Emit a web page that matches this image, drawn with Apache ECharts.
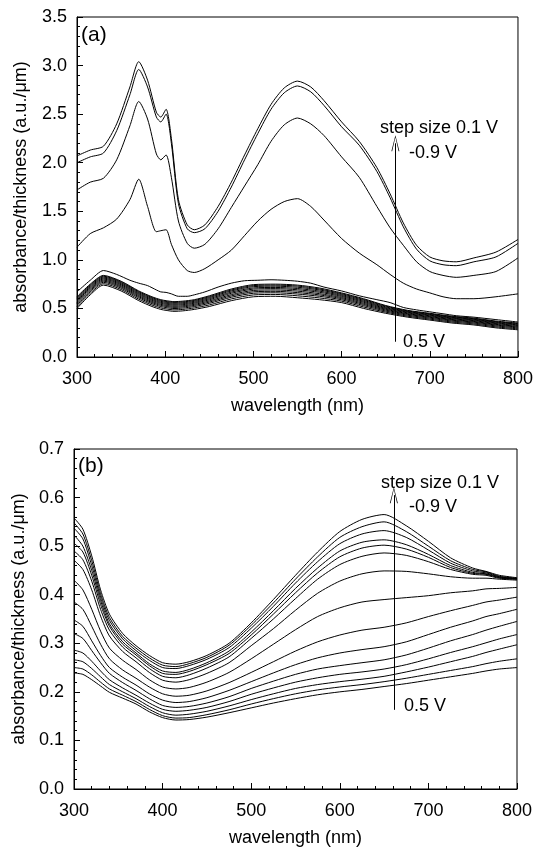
<!DOCTYPE html>
<html>
<head>
<meta charset="utf-8">
<script src="https://cdn.jsdelivr.net/npm/echarts@6/dist/echarts.min.js"></script>
<style>html,body{margin:0;padding:0;background:#fff}#c{width:536px;height:848px}</style>
</head>
<body>
<div id="c"></div>
<script>
// ---------- Panel (a) ----------
const wlA = [300,315,330,345,360,370,380,390,395,401,407,415,425,433,445,460,475,490,505,520,535,550,565,580,600,620,640,655,670,685,700,715,730,750,775,800];
const aM09 = [2.07,2.13,2.17,2.40,2.78,3.04,2.85,2.52,2.47,2.55,2.25,1.62,1.36,1.31,1.36,1.55,1.80,2.08,2.35,2.60,2.77,2.84,2.78,2.64,2.42,2.22,1.95,1.68,1.38,1.15,1.03,0.99,0.98,1.02,1.08,1.21];
const aM08 = [2.00,2.06,2.10,2.33,2.70,2.96,2.78,2.47,2.42,2.50,2.20,1.58,1.32,1.28,1.32,1.50,1.75,2.03,2.30,2.55,2.72,2.79,2.73,2.59,2.37,2.18,1.91,1.64,1.34,1.11,0.99,0.95,0.94,0.98,1.03,1.17];
const aM07 = [1.72,1.80,1.84,2.03,2.38,2.63,2.45,2.09,2.03,2.08,1.85,1.40,1.17,1.12,1.16,1.32,1.54,1.76,1.98,2.22,2.39,2.46,2.40,2.28,2.06,1.85,1.55,1.33,1.15,0.98,0.88,0.84,0.82,0.84,0.88,1.02];
const aM06 = [1.13,1.27,1.33,1.42,1.62,1.83,1.55,1.29,1.30,1.31,1.16,1.00,0.89,0.87,0.91,1.00,1.10,1.25,1.40,1.52,1.60,1.63,1.55,1.41,1.22,1.07,0.95,0.85,0.76,0.70,0.66,0.62,0.60,0.60,0.62,0.65];
const aM05 = [0.67,0.79,0.89,0.85,0.79,0.76,0.735,0.69,0.67,0.665,0.65,0.625,0.625,0.64,0.67,0.72,0.76,0.785,0.79,0.795,0.79,0.78,0.76,0.72,0.68,0.63,0.59,0.56,0.51,0.485,0.465,0.445,0.425,0.41,0.385,0.36];

const wlA2 = [300,315,330,350,370,385,395,401,410,420,433,450,475,500,525,550,575,600,625,650,675,700,725,750,775,800];
const aM04 = [0.62,0.75,0.84,0.78,0.68,0.62,0.59,0.58,0.57,0.575,0.59,0.63,0.70,0.745,0.75,0.74,0.71,0.66,0.60,0.53,0.48,0.45,0.42,0.40,0.37,0.35];
const aM03 = [0.61,0.741,0.832,0.772,0.672,0.612,0.582,0.572,0.562,0.567,0.582,0.621,0.69,0.735,0.74,0.73,0.70,0.652,0.592,0.524,0.474,0.444,0.414,0.394,0.364,0.344];
const aM02 = [0.60,0.731,0.823,0.763,0.663,0.603,0.573,0.563,0.553,0.558,0.573,0.611,0.68,0.724,0.729,0.718,0.69,0.643,0.583,0.516,0.468,0.438,0.408,0.388,0.358,0.338];
const aM01 = [0.588,0.72,0.813,0.753,0.653,0.593,0.563,0.553,0.543,0.548,0.563,0.60,0.668,0.711,0.716,0.705,0.678,0.633,0.573,0.508,0.461,0.431,0.401,0.381,0.351,0.331];
const aP00 = [0.576,0.709,0.803,0.743,0.643,0.583,0.553,0.543,0.533,0.538,0.553,0.589,0.656,0.699,0.704,0.692,0.666,0.623,0.563,0.50,0.454,0.424,0.394,0.374,0.344,0.324];
const aP01 = [0.562,0.697,0.792,0.732,0.632,0.572,0.542,0.532,0.522,0.527,0.542,0.577,0.642,0.685,0.69,0.678,0.652,0.612,0.552,0.492,0.446,0.416,0.386,0.366,0.336,0.316];
const aP02 = [0.549,0.685,0.781,0.721,0.621,0.561,0.531,0.521,0.511,0.516,0.531,0.565,0.629,0.671,0.676,0.663,0.639,0.601,0.541,0.483,0.439,0.409,0.379,0.359,0.329,0.309];
const aP03 = [0.535,0.672,0.769,0.709,0.609,0.549,0.519,0.509,0.499,0.504,0.519,0.552,0.615,0.656,0.661,0.648,0.625,0.589,0.529,0.473,0.43,0.40,0.37,0.35,0.32,0.30];
const aP04 = [0.518,0.656,0.755,0.695,0.595,0.535,0.505,0.495,0.485,0.49,0.505,0.536,0.598,0.639,0.644,0.63,0.608,0.575,0.515,0.462,0.42,0.39,0.36,0.34,0.31,0.29];
const aP05 = [0.50,0.64,0.74,0.68,0.58,0.52,0.49,0.48,0.47,0.475,0.49,0.52,0.58,0.62,0.625,0.61,0.59,0.56,0.50,0.45,0.41,0.38,0.35,0.33,0.30,0.28];

// ---------- Panel (b) ----------
const wlB = [300,310,320,330,340,355,370,385,400,415,430,450,475,500,525,550,575,600,625,650,675,700,725,750,765,780,800];
const bM09 = [0.558,0.535,0.48,0.41,0.36,0.32,0.295,0.275,0.26,0.257,0.262,0.275,0.30,0.342,0.39,0.44,0.488,0.53,0.555,0.565,0.542,0.51,0.476,0.455,0.448,0.44,0.435];
const bM08 = [0.548,0.525,0.47,0.402,0.353,0.314,0.29,0.27,0.255,0.252,0.258,0.271,0.296,0.337,0.383,0.432,0.478,0.518,0.54,0.55,0.53,0.50,0.47,0.452,0.447,0.438,0.434];
const bM07 = [0.537,0.515,0.46,0.395,0.347,0.309,0.285,0.265,0.25,0.248,0.254,0.267,0.291,0.331,0.376,0.424,0.468,0.505,0.525,0.532,0.518,0.492,0.465,0.449,0.445,0.437,0.433];
const bM06 = [0.523,0.50,0.45,0.388,0.34,0.303,0.28,0.258,0.243,0.24,0.246,0.26,0.284,0.323,0.367,0.413,0.455,0.49,0.508,0.513,0.503,0.483,0.46,0.446,0.443,0.436,0.433];
const bM05 = [0.506,0.488,0.44,0.38,0.335,0.298,0.276,0.254,0.238,0.236,0.242,0.256,0.279,0.317,0.36,0.404,0.445,0.478,0.496,0.502,0.494,0.477,0.456,0.444,0.442,0.435,0.432];
const bM04 = [0.49,0.472,0.428,0.37,0.327,0.292,0.27,0.248,0.232,0.229,0.235,0.249,0.272,0.31,0.35,0.392,0.432,0.462,0.479,0.486,0.481,0.468,0.452,0.442,0.44,0.434,0.432];
const bM03 = [0.471,0.452,0.41,0.356,0.315,0.283,0.262,0.24,0.224,0.22,0.225,0.238,0.26,0.295,0.33,0.368,0.403,0.428,0.443,0.449,0.448,0.443,0.437,0.434,0.434,0.432,0.43];
const bM02 = [0.43,0.41,0.37,0.325,0.29,0.265,0.246,0.225,0.21,0.206,0.209,0.22,0.24,0.268,0.298,0.328,0.355,0.373,0.385,0.39,0.394,0.398,0.404,0.408,0.412,0.413,0.415];
const bM01 = [0.385,0.37,0.335,0.298,0.268,0.245,0.228,0.21,0.196,0.191,0.193,0.202,0.219,0.24,0.262,0.284,0.303,0.317,0.327,0.333,0.342,0.355,0.367,0.378,0.385,0.389,0.395];
const bP00 = [0.348,0.335,0.305,0.275,0.25,0.23,0.214,0.196,0.183,0.178,0.18,0.188,0.203,0.221,0.239,0.256,0.27,0.28,0.287,0.293,0.303,0.318,0.333,0.346,0.355,0.361,0.37];
const bP01 = [0.32,0.31,0.285,0.26,0.238,0.219,0.203,0.186,0.172,0.168,0.17,0.177,0.19,0.207,0.222,0.236,0.247,0.254,0.26,0.266,0.276,0.29,0.305,0.318,0.327,0.335,0.345];
const bP02 = [0.286,0.28,0.263,0.243,0.225,0.208,0.193,0.177,0.164,0.16,0.162,0.168,0.18,0.195,0.208,0.22,0.229,0.236,0.241,0.247,0.256,0.268,0.281,0.293,0.301,0.309,0.318];
const bP03 = [0.266,0.262,0.248,0.231,0.215,0.20,0.186,0.17,0.157,0.152,0.154,0.16,0.171,0.184,0.196,0.207,0.215,0.221,0.226,0.232,0.241,0.251,0.262,0.273,0.281,0.288,0.297];
const bP04 = [0.25,0.247,0.235,0.22,0.206,0.193,0.18,0.164,0.151,0.146,0.147,0.153,0.163,0.175,0.186,0.196,0.204,0.21,0.215,0.221,0.228,0.236,0.244,0.252,0.258,0.263,0.268];
const bP05 = [0.239,0.236,0.225,0.212,0.199,0.187,0.175,0.159,0.147,0.142,0.143,0.148,0.157,0.167,0.177,0.186,0.194,0.20,0.205,0.211,0.217,0.224,0.231,0.238,0.243,0.247,0.25];

// annotation values
const arrowWl = 661;
const arrowA = [0.157, 2.20];
const arrowB = [0.163, 0.605];

const seriesA = [
  {name:'-0.9 V', x: wlA, y: aM09}, {name:'-0.8 V', x: wlA, y: aM08}, {name:'-0.7 V', x: wlA, y: aM07},
  {name:'-0.6 V', x: wlA, y: aM06}, {name:'-0.5 V', x: wlA, y: aM05}, {name:'-0.4 V', x: wlA2, y: aM04},
  {name:'-0.3 V', x: wlA2, y: aM03}, {name:'-0.2 V', x: wlA2, y: aM02}, {name:'-0.1 V', x: wlA2, y: aM01},
  {name:'0.0 V', x: wlA2, y: aP00}, {name:'0.1 V', x: wlA2, y: aP01}, {name:'0.2 V', x: wlA2, y: aP02},
  {name:'0.3 V', x: wlA2, y: aP03}, {name:'0.4 V', x: wlA2, y: aP04}, {name:'0.5 V', x: wlA2, y: aP05}
];
const seriesB = [
  {name:'-0.9 V', y: bM09}, {name:'-0.8 V', y: bM08}, {name:'-0.7 V', y: bM07}, {name:'-0.6 V', y: bM06},
  {name:'-0.5 V', y: bM05}, {name:'-0.4 V', y: bM04}, {name:'-0.3 V', y: bM03}, {name:'-0.2 V', y: bM02},
  {name:'-0.1 V', y: bM01}, {name:'0.0 V', y: bP00}, {name:'0.1 V', y: bP01}, {name:'0.2 V', y: bP02},
  {name:'0.3 V', y: bP03}, {name:'0.4 V', y: bP04}, {name:'0.5 V', y: bP05}
];

const FONT = 'Liberation Sans, Arial, Helvetica, sans-serif';
const chevron = 'path://M0,20 L5,0 L10,20 L9,20 L5,2.5 L1,20 Z';

function xAxisCfg(gi) {
  return {
    type:'value', gridIndex: gi, min:300, max:800, interval:100,
    name:'wavelength (nm)', nameLocation:'middle', nameGap: 49,
    nameTextStyle:{fontFamily:FONT, fontSize:18, color:'#000', verticalAlign:'middle'},
    axisLine:{show:true, lineStyle:{color:'#000', width:1}},
    axisTick:{show:true, inside:true, length:6, lineStyle:{color:'#000'}},
    minorTick:{show:true, splitNumber:5, length:3, lineStyle:{color:'#000'}},
    splitLine:{show:false},
    axisLabel:{fontFamily:FONT, fontSize:18, color:'#000', margin:13}
  };
}
function yAxisCfg(gi, max, interval, gap) {
  return {
    type:'value', gridIndex: gi, min:0, max:max, interval:interval,
    name:'absorbance/thickness (a.u./\u03bcm)', nameLocation:'middle', nameGap: gap, nameRotate: 90,
    nameTextStyle:{fontFamily:FONT, fontSize:18, color:'#000', verticalAlign:'middle'},
    axisLine:{show:true, lineStyle:{color:'#000', width:1}},
    axisTick:{show:true, inside:true, length:6, lineStyle:{color:'#000'}},
    minorTick:{show:true, splitNumber:5, length:3, lineStyle:{color:'#000'}},
    splitLine:{show:false},
    axisLabel:{fontFamily:FONT, fontSize:18, color:'#000', margin:10, formatter: v => v.toFixed(1)}
  };
}

function lineSeries(s, xi, yi, xs) {
  return {
    type:'line', name:s.name, xAxisIndex:xi, yAxisIndex:yi,
    data: xs.map((w, i) => [w, s.y[i]]),
    showSymbol:false, smooth:0.25,
    lineStyle:{color:'#000', width:1}, silent:true
  };
}

const series = [];
seriesA.forEach(s => series.push(lineSeries(s, 0, 0, s.x)));
seriesB.forEach(s => series.push(lineSeries(s, 1, 1, wlB)));

function arrowSeries(xi, yi, ends) {
  return {
    type:'line', xAxisIndex:xi, yAxisIndex:yi, data:[], silent:true,
    markLine:{
      silent:true, animation:false,
      symbol:['none', chevron], symbolSize:[8, 16],
      label:{show:false},
      lineStyle:{color:'#000', width:1, type:'solid'},
      data:[[{coord:[arrowWl, ends[0]]}, {coord:[arrowWl, ends[1]]}]]
    }
  };
}
series.push(arrowSeries(0, 0, arrowA));
series.push(arrowSeries(1, 1, arrowB));

function txt(x, y, s, size) {
  return {type:'text', x:x, y:y, silent:true,
    style:{text:s, font: size + 'px ' + FONT, fill:'#000', align:'left', verticalAlign:'middle'}};
}

const option = {
  animation:false,
  backgroundColor:'#fff',
  grid:[
    {left:77, top:17, width:442, height:340, show:true, borderColor:'#000', borderWidth:1, containLabel:false},
    {left:74, top:449, width:443, height:340, show:true, borderColor:'#000', borderWidth:1, containLabel:false}
  ],
  xAxis:[xAxisCfg(0), xAxisCfg(1)],
  yAxis:[yAxisCfg(0, 3.5, 0.5, 56), yAxisCfg(1, 0.7, 0.1, 54)],
  series: series,
  graphic:[
    txt(81, 35, '(a)', 21),
    txt(380, 128, 'step size 0.1 V', 18),
    txt(409, 153, '-0.9 V', 18),
    txt(403, 342, '0.5 V', 18),
    txt(78, 466, '(b)', 21),
    txt(381, 483, 'step size 0.1 V', 18),
    txt(409, 507, '-0.9 V', 18),
    txt(404, 706, '0.5 V', 18)
  ]
};

const chart = echarts.init(document.getElementById('c'), null, {renderer:'canvas'});
chart.setOption(option);
</script>
</body>
</html>
